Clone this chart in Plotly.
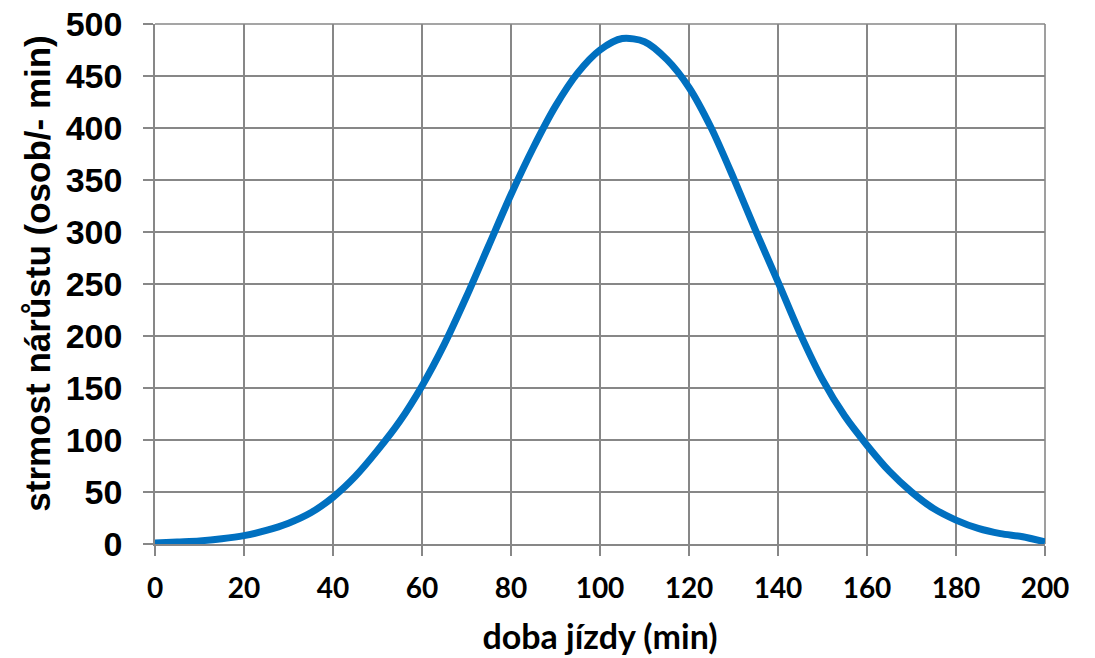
import plotly.graph_objects as go

# Travel time (min) and rate of growth (persons per minute)
doba_jizdy = [0, 5, 10, 15, 20, 25, 30, 35, 40, 45, 50, 55, 60, 65, 70, 75, 80, 85, 90, 95,
              100, 105, 110, 115, 120, 125, 130, 135, 140, 145, 150, 155, 160, 165, 170,
              175, 180, 185, 190, 195, 200]
strmost = [1, 2, 3, 5, 8, 13, 20, 30, 45, 65, 90, 118, 152, 192, 238, 287, 336, 381, 421, 453,
           475, 486, 483, 466, 439, 400, 352, 301, 252, 202, 158, 123, 95, 70, 50,
           34, 23, 15, 10, 7, 2]

x_ticks = list(range(0, 201, 20))
y_ticks = list(range(0, 501, 50))

GRID = "#878787"
BLUE = "#0070C0"

fig = go.Figure(
    go.Scatter(
        x=doba_jizdy,
        y=strmost,
        mode="lines",
        line=dict(color=BLUE, width=7, shape="spline", smoothing=0.8),
        cliponaxis=False,
        hoverinfo="x+y",
    )
)

fig.update_layout(
    width=1095,
    height=658,
    margin=dict(l=155, r=50, t=24, b=114, autoexpand=False),
    paper_bgcolor="white",
    plot_bgcolor="white",
    showlegend=False,
    xaxis=dict(
        range=[0, 200],
        automargin=False,
        tickvals=x_ticks,
        ticktext=[str(v) for v in x_ticks],
        showgrid=True,
        gridcolor=GRID,
        gridwidth=1.6,
        zeroline=False,
        showline=True,
        linecolor=GRID,
        linewidth=1.6,
        ticks="outside",
        ticklen=10,
        tickwidth=1.6,
        tickcolor=GRID,
        tickfont=dict(family="Lato", size=28, color="black", weight="bold"),
        ticklabelstandoff=9,
        title=dict(
            text="<b>doba jízdy (min)</b>",
            font=dict(family="Lato", size=34, color="black"),
            standoff=22,
        ),
    ),
    yaxis=dict(
        range=[0, 500],
        automargin=False,
        tickvals=y_ticks,
        ticktext=[str(v) for v in y_ticks],
        showgrid=True,
        gridcolor=GRID,
        gridwidth=1.6,
        zeroline=False,
        showline=True,
        linecolor=GRID,
        linewidth=1.6,
        ticks="outside",
        ticklen=10,
        tickwidth=1.6,
        tickcolor=GRID,
        tickfont=dict(family="Liberation Sans", size=34, color="black", weight="bold"),
        ticklabelstandoff=14,
    ),
)

# Vertical axis title
fig.add_annotation(
    text="<b>strmost nárůstu (osob/- min)</b>",
    xref="paper", yref="paper",
    x=-0.132, y=0.519,
    xanchor="center", yanchor="middle",
    textangle=-90,
    showarrow=False,
    font=dict(family="Liberation Sans", size=35, color="black"),
)

# Right and top border of the plotting area as gridlines
fig.add_shape(type="line", xref="paper", yref="paper", x0=1, x1=1, y0=0, y1=1,
              line=dict(color=GRID, width=1.6), layer="below")
fig.add_shape(type="line", xref="paper", yref="paper", x0=0, x1=1, y0=1, y1=1,
              line=dict(color=GRID, width=1.6), layer="below")

fig.write_html("out.html")
